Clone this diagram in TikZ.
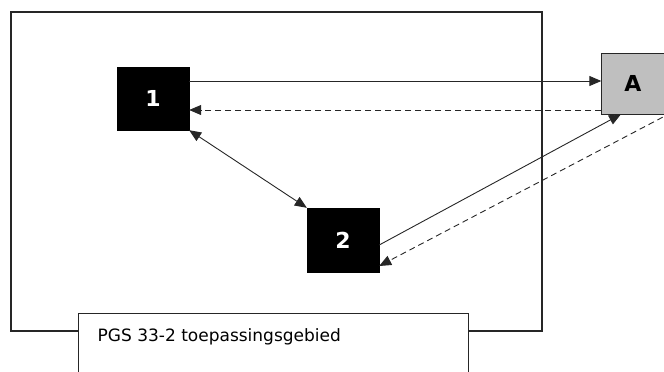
\documentclass[tikz,border=0pt]{standalone}
\usepackage{fontspec}
\setmainfont{DejaVu Sans}
\usetikzlibrary{arrows.meta}
\tikzset{
  blok/.style={draw=black, fill=black, text=white, inner sep=0pt,
    minimum width=72pt, minimum height=63pt, font=\bfseries\fontsize{22}{26}\selectfont},
  extern/.style={draw=black!85, fill=black!25, inner sep=0pt,
    minimum width=63pt, minimum height=61pt, font=\bfseries\fontsize{22}{26}\selectfont},
  pijl/.style={-{Triangle[length=12pt,width=10pt]}, line width=0.9pt, black!85},
  streep/.style={dash pattern=on 6pt off 4pt},
  kaderlijn/.style={draw=black!85, line width=1.3pt, inner sep=0pt}
}
\begin{document}
\begin{tikzpicture}[x=1pt,y=-1pt]
    \useasboundingbox (0,0) rectangle (664,372);
    \clip (0,0) rectangle (664,372);
    \node[kaderlijn, minimum width=531pt, minimum height=319pt] (kader) at (276.5,171.5) {};
    \node[kaderlijn, fill=white, line width=1pt, minimum width=390pt, minimum height=70pt] (gebied) at (273,348) {};
    \node[anchor=west, inner sep=0pt, font=\fontsize{17}{20}\selectfont] (gebiedtekst) at ([xshift=20pt,yshift=-24pt]gebied.north west) {PGS 33-2 toepassingsgebied};
    \node[blok] (een) at (153,98.5) {1};
    \node[blok, minimum height=64pt] (twee) at (343,240) {2};
    \node[extern] (A) at (633,83.5) {A};
    \draw[pijl] ([yshift=17.5pt]een.east) -- ([yshift=17.5pt]een.east -| A.west);
    \draw[pijl, streep] ([yshift=-11.5pt]een.east -| A.west) -- ([yshift=-11.5pt]een.east);
    \draw[pijl, {Triangle[length=12pt,width=10pt]}-{Triangle[length=12pt,width=10pt]}] (een.south east) -- (twee.north west);
    \draw[pijl] ([yshift=-5pt]twee.east) -- ([xshift=-12pt]A.south);
    \draw[pijl, streep] ([xshift=-2pt,yshift=-3pt]A.south east) -- ([yshift=-26pt]twee.east);
\end{tikzpicture}
\end{document}
